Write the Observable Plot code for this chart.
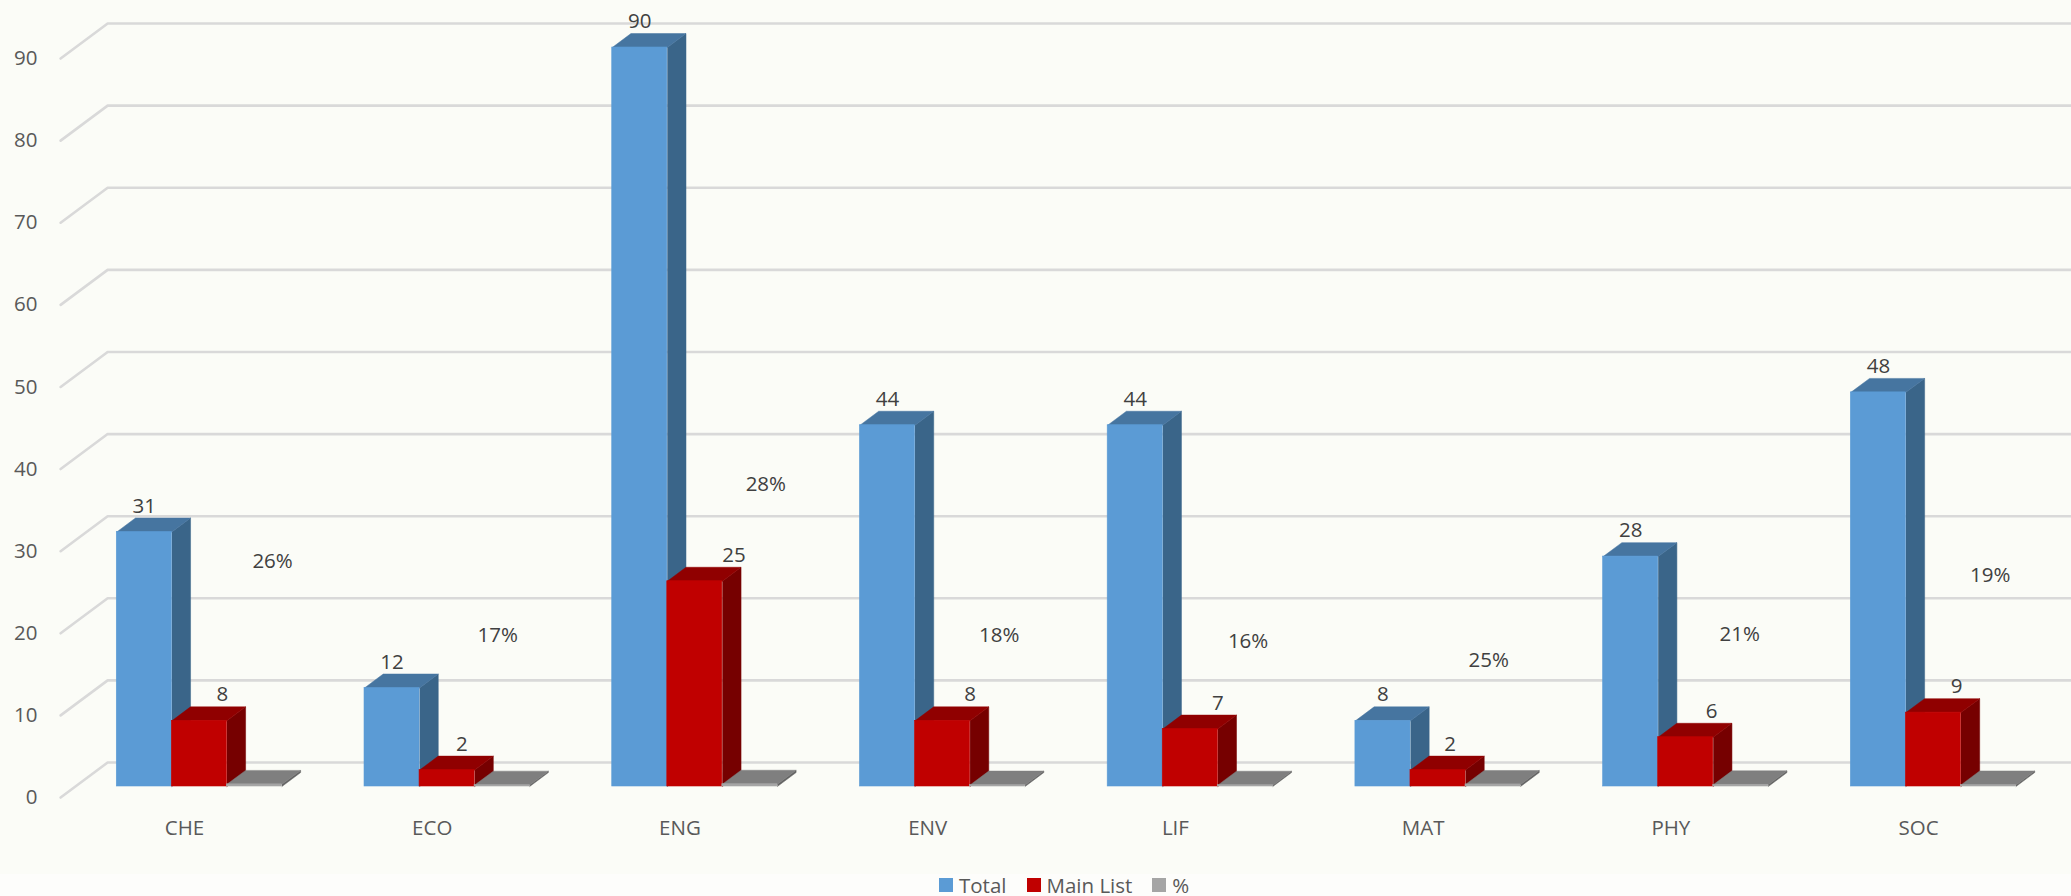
<!DOCTYPE html>
<html>
<head>
<meta charset="utf-8">
<script src="https://cdn.jsdelivr.net/npm/d3@7"></script>
<script src="https://cdn.jsdelivr.net/npm/@observablehq/plot@0.6"></script>
<style>
  html, body { margin: 0; padding: 0; background: #FBFCF7; overflow: hidden; }
  #chart svg { display: block; background: #FBFCF7; }
  #legend { height: 22px; background: #FDFDFB; display: flex; align-items: center; padding-left: 939px;
            font: 20.5px "Open Sans", sans-serif; color: #595959; box-sizing: border-box; line-height: 22px; }
  #legend span.sw { width: 14px; height: 14px; margin-right: 6px; display: inline-block; }
  #legend span.lb { margin-right: 20px; }
</style>
</head>
<body>
<div id="chart"></div>
<div id="legend"></div>
<script>
// ---- data ----
const categories = ["CHE", "ECO", "ENG", "ENV", "LIF", "MAT", "PHY", "SOC"];
const totalValues = [31, 12, 90, 44, 44, 8, 28, 48];
const mainListValues = [8, 2, 25, 8, 7, 2, 6, 9];
const percentValues = [0.26, 0.17, 0.28, 0.18, 0.16, 0.25, 0.21, 0.19];
const yTicks = [0, 10, 20, 30, 40, 50, 60, 70, 80, 90];

// ---- where the floating data labels sit (axis units; shifts in bar widths) ----
const percentLabelHeight = [27.4, 18.4, 36.8, 18.4, 17.7, 15.4, 18.5, 25.7];
const percentLabelShift = [0.33, -0.08, 0.29, 0.03, 0.05, -0.08, -0.02, 0.03];
const mainLabelShift = [0.42, 0.27, 0.71, 0.5, 0.5, 0.22, 0.47, 0.42];

// ---- layout in scale units: x is measured in bar widths, 4.5 per category ----
const groupStep = 4.5, blueStart = 0.75;
const depthX = 0.34, depthY = 1.7;          // bar depth
const wallX = 0.854, wallY = 4.26;          // floor depth of the gridded wall
const frontLeft = -0.27, frontDrop = -1.34; // front corner relative to the bar plane
const rightEdge = 36.3, tickLabelX = -0.69;

const series = [
  {name: "Total", values: totalValues, front: "#5B9BD5", top: "#4675A0", side: "#3A6589"},
  {name: "Main List", values: mainListValues, front: "#C00000", top: "#900000", side: "#760000"},
  {name: "%", values: percentValues, front: "#A5A5A5", top: "#7F7F7F", side: "#636363"}
];

const fronts = [], faces = [];
let faceId = 0;
series.forEach((s, j) => {
  categories.forEach((c, i) => {
    const x1 = i * groupStep + blueStart + j, x2 = x1 + 1, v = s.values[i];
    fronts.push({x1, x2, y1: 0, y2: v, fill: s.front});
    const side = [[x2, 0], [x2 + depthX, depthY], [x2 + depthX, v + depthY], [x2, v]];
    const top = [[x1, v], [x1 + depthX, v + depthY], [x2 + depthX, v + depthY], [x2, v]];
    for (const [poly, fill] of [[side, s.side], [top, s.top]]) {
      const id = faceId++;
      poly.forEach(([x, y]) => faces.push({id, x, y, fill}));
    }
  });
});

const gridLines = yTicks.flatMap(t => [
  {t, x: frontLeft, y: t + frontDrop},
  {t, x: frontLeft + wallX, y: t + frontDrop + wallY},
  {t, x: rightEdge, y: t + frontDrop + wallY}
]);

const barCenter = (i, j) => i * groupStep + blueStart + j + 0.5;
const tickLabels = yTicks.map(t => ({x: tickLabelX, y: t, t: String(t)}));
const totalLabels = categories.map((c, i) => ({x: barCenter(i, 0), y: totalValues[i], t: String(totalValues[i])}));
const mainLabels = categories.map((c, i) => ({x: barCenter(i, 1) + mainLabelShift[i], y: mainListValues[i], t: String(mainListValues[i])}));
const percentLabels = categories.map((c, i) => ({x: barCenter(i, 2) + percentLabelShift[i], y: percentLabelHeight[i], t: Math.round(percentValues[i] * 100) + "%"}));
const categoryLabels = categories.map((c, i) => ({x: barCenter(i, 1) - 0.27, y: 0, t: c}));

const labelFont = {fontSize: 20.5, fontFamily: "Open Sans"};

const chart = Plot.plot({
  width: 2071,
  height: 874,
  marginLeft: 0, marginRight: 0, marginTop: 0, marginBottom: 0,
  style: {background: "#FBFCF7", fontFamily: "Open Sans"},
  x: {type: "linear", domain: [0, 36], range: [75, 2056.8], axis: null},
  y: {type: "linear", domain: [0, 90], range: [786, 47], axis: null},
  marks: [
    Plot.line(gridLines, {x: "x", y: "y", z: "t", stroke: "#D9D9D9", strokeWidth: 2.6, curve: "linear"}),
    Plot.line(faces, {x: "x", y: "y", z: "id", fill: "fill", stroke: "fill", strokeWidth: 0.5, curve: "linear"}),
    Plot.rect(fronts, {x1: "x1", x2: "x2", y1: "y1", y2: "y2", fill: "fill", stroke: "fill", strokeWidth: 0.6}),
    Plot.text(tickLabels, {x: "x", y: "y", text: "t", textAnchor: "end", dy: 11, fill: "#595959", ...labelFont}),
    Plot.text(categoryLabels, {x: "x", y: "y", text: "t", dy: 42, fill: "#595959", ...labelFont}),
    Plot.text(totalLabels, {x: "x", y: "y", text: "t", dy: -26, fill: "#404040", ...labelFont}),
    Plot.text(mainLabels, {x: "x", y: "y", text: "t", dy: -26, fill: "#404040", ...labelFont}),
    Plot.text(percentLabels, {x: "x", y: "y", text: "t", fill: "#404040", ...labelFont})
  ]
});
document.getElementById("chart").appendChild(chart);

const legend = document.getElementById("legend");
series.forEach(s => {
  const sw = document.createElement("span");
  sw.className = "sw"; sw.style.background = s.front;
  const lb = document.createElement("span");
  lb.className = "lb"; lb.textContent = s.name;
  legend.append(sw, lb);
});
</script>
</body>
</html>
